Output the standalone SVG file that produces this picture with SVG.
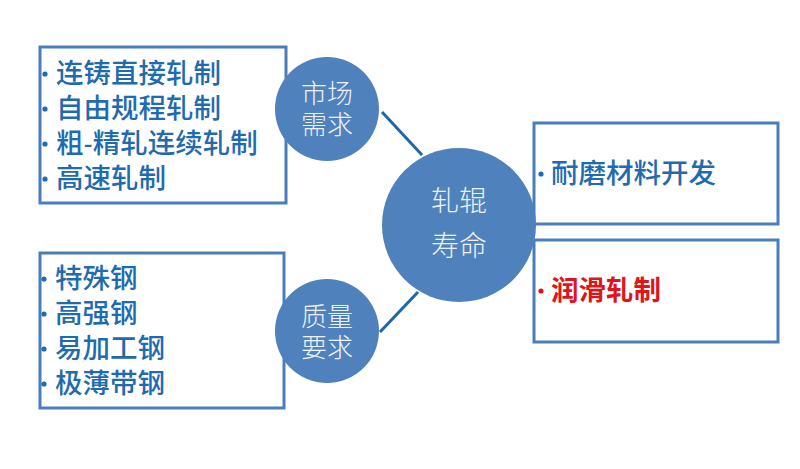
<svg xmlns="http://www.w3.org/2000/svg" width="800" height="469" viewBox="0 0 800 469">
<style>
.box{fill:#ffffff;stroke:#4a7ebb;stroke-width:3}
.item{font-family:"Liberation Sans","Noto Sans CJK SC","Noto Sans CJK JP",sans-serif;font-size:27.5px;fill:#1f6bb0;font-weight:500}
.red{font-family:"Liberation Sans","Noto Sans CJK SC","Noto Sans CJK JP",sans-serif;font-size:27.5px;fill:#e0141b;font-weight:bold}
.bullet{fill:#1f6bb0}
.circ{fill:#4f81bd}
.ctext{font-family:"Liberation Sans","Noto Sans CJK SC","Noto Sans CJK JP",sans-serif;font-size:26px;fill:#eef2f8;text-anchor:middle;font-weight:300}
.btext{font-family:"Liberation Sans","Noto Sans CJK SC","Noto Sans CJK JP",sans-serif;font-size:28px;fill:#eef2f8;text-anchor:middle;font-weight:300}
.conn{stroke:#1f67a8;stroke-width:3;fill:none}
</style>
<rect width="800" height="469" fill="#ffffff"/>
<g id="connectors">
<line class="conn" x1="382" y1="112" x2="422" y2="155"/>
<line class="conn" x1="418" y1="292" x2="380" y2="332"/>
</g>
<g id="box-market">
<rect class="box" x="40" y="47" width="246" height="156"/>
<circle class="bullet" cx="45" cy="74" r="2.6"/>
<circle class="bullet" cx="45" cy="109" r="2.6"/>
<circle class="bullet" cx="45" cy="144" r="2.6"/>
<circle class="bullet" cx="45" cy="179" r="2.6"/>
<text class="item" x="56" y="83">连铸直接轧制</text>
<text class="item" x="56" y="118">自由规程轧制</text>
<text class="item" x="56" y="153">粗-精轧连续轧制</text>
<text class="item" x="56" y="188">高速轧制</text>
</g>
<g id="box-quality">
<rect class="box" x="40" y="253" width="244" height="155"/>
<circle class="bullet" cx="44" cy="279" r="2.6"/>
<circle class="bullet" cx="44" cy="314" r="2.6"/>
<circle class="bullet" cx="44" cy="349" r="2.6"/>
<circle class="bullet" cx="44" cy="384" r="2.6"/>
<text class="item" x="55" y="288">特殊钢</text>
<text class="item" x="55" y="323">高强钢</text>
<text class="item" x="55" y="358">易加工钢</text>
<text class="item" x="55" y="393">极薄带钢</text>
</g>
<g id="box-wear">
<rect class="box" x="534" y="123" width="244" height="101"/>
<circle class="bullet" cx="541" cy="174" r="2.6"/>
<text class="item" x="551" y="183">耐磨材料开发</text>
</g>
<g id="box-lub">
<rect class="box" x="534" y="240" width="244" height="102"/>
<circle cx="541" cy="291" r="2.6" fill="#e0141b"/>
<text class="red" x="551" y="300">润滑轧制</text>
</g>
<g id="node-market">
<circle class="circ" cx="327" cy="109" r="52"/>
<text class="ctext" x="327" y="103">市场</text>
<text class="ctext" x="327" y="134">需求</text>
</g>
<g id="node-quality">
<circle class="circ" cx="327" cy="331" r="52"/>
<text class="ctext" x="327" y="326">质量</text>
<text class="ctext" x="327" y="357">要求</text>
</g>
<g id="node-life">
<circle class="circ" cx="459" cy="225" r="77"/>
<text class="btext" x="459" y="211">轧辊</text>
<text class="btext" x="459" y="256">寿命</text>
</g>
</svg>
